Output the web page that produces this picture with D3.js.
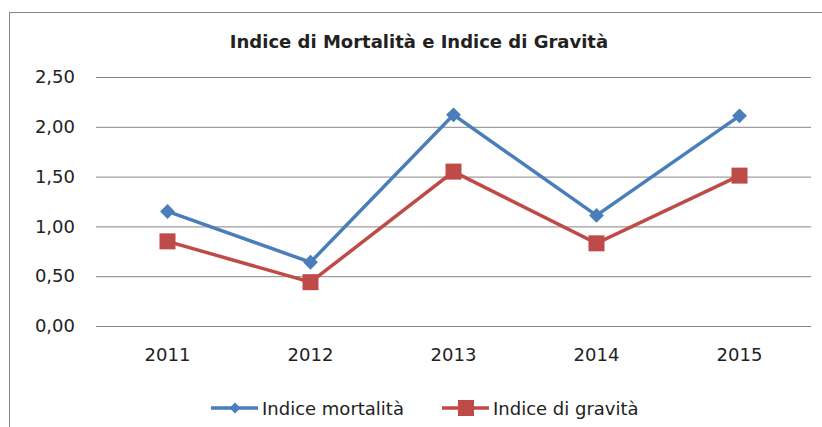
<!DOCTYPE html>
<html>
<head>
<meta charset="utf-8">
<script src="https://cdn.jsdelivr.net/npm/d3@7"></script>
<style>
  body { margin: 0; background: #fff; }
  text { font-family: "DejaVu Sans", sans-serif; fill: #222; }
</style>
</head>
<body>
<svg width="822" height="427"></svg>
<script>
var years = ["2011", "2012", "2013", "2014", "2015"];
var mortalita = [1.15, 0.64, 2.12, 1.11, 2.11];
var gravita = [0.85, 0.44, 1.55, 0.83, 1.51];
var yTicks = [0, 0.5, 1, 1.5, 2, 2.5];
var seriesNames = ["Indice mortalità", "Indice di gravità"];

var svg = d3.select("svg"),
    width = +svg.attr("width"),
    height = +svg.attr("height");

var blue = "#4a7ebb", red = "#be4b48";

// outer chart frame (cut off on the right and bottom)
svg.append("rect")
    .attr("x", 9.5).attr("y", 12.5)
    .attr("width", 830).attr("height", 430)
    .attr("fill", "none")
    .attr("stroke", "#868686");

svg.append("text")
    .attr("x", 419).attr("y", 48)
    .attr("text-anchor", "middle")
    .style("font-weight", "bold")
    .style("font-size", "18px")
    .text("Indice di Mortalità e Indice di Gravità");

var x = d3.scaleBand()
    .domain(years)
    .range([96, 811]);

var y = d3.scaleLinear()
    .domain([0, 2.5])
    .range([326, 77]);

var fmt = function(d) { return d3.format(".2f")(d).replace(".", ","); };

// gridlines + y labels
var yAxis = svg.append("g")
    .attr("transform", "translate(96,0)")
    .call(d3.axisLeft(y).tickValues(yTicks).tickSize(-715).tickPadding(21).tickFormat(fmt));
yAxis.select(".domain").remove();
yAxis.selectAll(".tick line").attr("stroke", "#868686");
yAxis.selectAll(".tick text")
    .style("font-size", "18px")
    .attr("fill", "#222")
    .style("font-family", "'DejaVu Sans', sans-serif");

// x labels
var xAxis = svg.append("g")
    .attr("transform", "translate(0,326)")
    .call(d3.axisBottom(x).tickSize(0).tickPadding(22));
xAxis.select(".domain").remove();
xAxis.selectAll(".tick text")
    .style("font-size", "18px")
    .attr("fill", "#222")
    .style("font-family", "'DejaVu Sans', sans-serif");

var line = d3.line()
    .x(function(d, i) { return x(years[i]) + x.bandwidth() / 2; })
    .y(function(d) { return y(d); });

var diamond = d3.symbol().type(d3.symbolSquare).size(110);

function drawSeries(data, color, marker) {
    svg.append("path")
        .datum(data)
        .attr("fill", "none")
        .attr("stroke", color)
        .attr("stroke-width", 3.5)
        .attr("d", line);
    var g = svg.append("g");
    data.forEach(function(d, i) {
        var cx = x(years[i]) + x.bandwidth() / 2, cy = y(d);
        if (marker == "diamond") {
            g.append("path")
                .attr("transform", "translate(" + cx + "," + cy + ") rotate(45)")
                .attr("d", diamond)
                .attr("fill", color);
        } else {
            g.append("rect")
                .attr("x", cx - 8).attr("y", cy - 8)
                .attr("width", 16).attr("height", 16)
                .attr("fill", color);
        }
    });
}
drawSeries(mortalita, blue, "diamond");
drawSeries(gravita, red, "square");

// legend
var legend = [
    { name: seriesNames[0], color: blue, marker: "diamond", x: 211 },
    { name: seriesNames[1], color: red, marker: "square", x: 442 }
];
legend.forEach(function(l) {
    var g = svg.append("g").attr("transform", "translate(" + l.x + ",408)");
    g.append("line")
        .attr("x1", 0).attr("x2", 47)
        .attr("stroke", l.color).attr("stroke-width", 3.5);
    if (l.marker == "diamond") {
        g.append("path").attr("transform", "translate(24,0) rotate(45)")
            .attr("d", d3.symbol().type(d3.symbolSquare).size(60))
            .attr("fill", l.color);
    } else {
        g.append("rect").attr("x", 16).attr("y", -8)
            .attr("width", 16).attr("height", 16).attr("fill", l.color);
    }
    g.append("text")
        .attr("x", 51).attr("y", 6.5)
        .style("font-size", "18px")
        .text(l.name);
});
</script>
</body>
</html>
